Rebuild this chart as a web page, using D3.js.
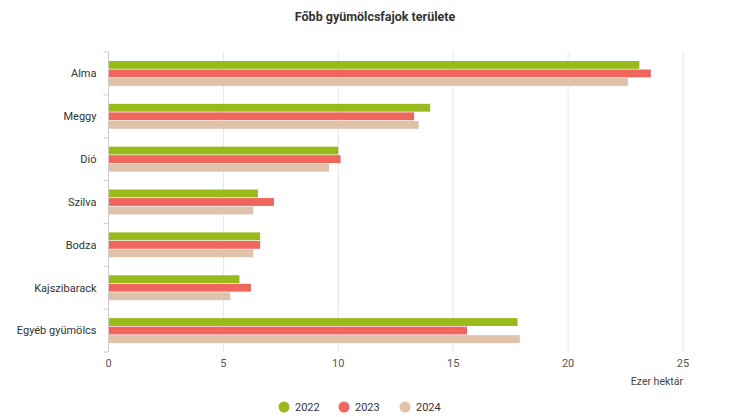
<!DOCTYPE html>
<html>
<head>
<meta charset="utf-8">
<script src="https://cdn.jsdelivr.net/npm/d3@7"></script>
<style>
  body { margin: 0; background: #fff; }
  svg { font-family: Roboto, "Noto Sans", sans-serif; }
</style>
</head>
<body>
<svg id="chart" width="750" height="417"></svg>
<script>
const categories = ["Alma", "Meggy", "Dió", "Szilva", "Bodza", "Kajszibarack", "Egyéb gyümölcs"];
const seriesNames = ["2022", "2023", "2024"];
const values2022 = [23.1, 14.0, 10.0, 6.5, 6.6, 5.7, 17.8];
const values2023 = [23.6, 13.3, 10.1, 7.2, 6.6, 6.2, 15.6];
const values2024 = [22.6, 13.5, 9.6, 6.3, 6.3, 5.3, 17.9];
const xTicks = [0, 5, 10, 15, 20, 25];
const colors = ["#98bb1b", "#f0665c", "#dfc2a9"];

const series = [values2022, values2023, values2024];
const svg = d3.select("#chart");
const margin = {left: 108.5, right: 67, top: 52, bottom: 65};
const W = 750, H = 417;

const x = d3.scaleLinear().domain([0, 25]).range([margin.left, W - margin.right]);
const y = d3.scaleBand().domain(categories).range([margin.top, H - margin.bottom]);
const inner = d3.scaleBand().domain(seriesNames).range([0, y.bandwidth()]).paddingInner(0.08).paddingOuter(1.05);

// title
svg.append("text").attr("x", 375).attr("y", 21).attr("text-anchor", "middle")
  .attr("font-size", 12.5).attr("font-weight", "bold").attr("fill", "#333")
  .text("Főbb gyümölcsfajok területe");

// gridlines
svg.append("g").selectAll("line").data(xTicks.filter(d => d > 0)).join("line")
  .attr("x1", d => x(d)).attr("x2", d => x(d))
  .attr("y1", margin.top).attr("y2", H - margin.bottom)
  .attr("stroke", "#e6e6e6").attr("stroke-width", 1);

// bars
const groups = svg.append("g").selectAll("g").data(categories).join("g")
  .attr("transform", d => `translate(0,${y(d)})`);
groups.selectAll("rect").data((d, i) => seriesNames.map((s, j) => ({s, v: series[j][i], j})))
  .join("rect")
  .attr("x", x(0))
  .attr("y", d => inner(d.s))
  .attr("width", d => x(d.v) - x(0))
  .attr("height", inner.bandwidth())
  .attr("fill", d => colors[d.j]);

// y axis
const yAxis = svg.append("g").attr("transform", `translate(${x(0)},0)`);
yAxis.append("line").attr("x1", 0).attr("x2", 0).attr("y1", margin.top).attr("y2", H - margin.bottom)
  .attr("stroke", "#ccc");
const boundaries = categories.map(c => y(c)).concat([H - margin.bottom]);
yAxis.selectAll("line.tick").data(boundaries).join("line").attr("class", "tick")
  .attr("x1", -5).attr("x2", 0).attr("y1", d => d).attr("y2", d => d).attr("stroke", "#ccc");
yAxis.selectAll("text").data(categories).join("text")
  .attr("x", -12).attr("y", d => y(d) + y.bandwidth() / 2).attr("dy", "0.35em")
  .attr("text-anchor", "end").attr("font-size", 11).attr("fill", "#333").text(d => d);

// x axis labels
svg.append("g").selectAll("text").data(xTicks).join("text")
  .attr("x", d => x(d)).attr("y", 367).attr("text-anchor", "middle")
  .attr("font-size", 11).attr("fill", "#555").text(d => d);
svg.append("text").attr("x", x(25)).attr("y", 385).attr("text-anchor", "end")
  .attr("font-size", 10.5).attr("fill", "#444").text("Ezer hektár");

// legend
const legendX = [284, 344, 405];
const lg = svg.append("g").selectAll("g").data(seriesNames).join("g")
  .attr("transform", (d, i) => `translate(${legendX[i]},407)`);
lg.append("circle").attr("r", 5.5).attr("fill", (d, i) => colors[i]);
lg.append("text").attr("x", 11).attr("dy", "0.35em").attr("font-size", 11).attr("fill", "#333").text(d => d);
</script>
</body>
</html>
